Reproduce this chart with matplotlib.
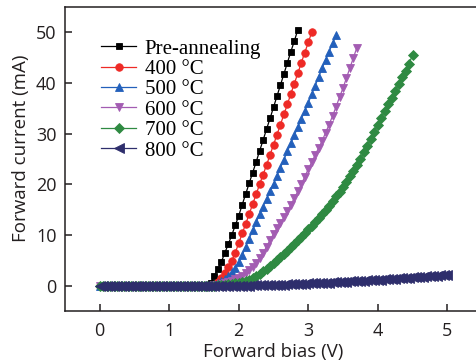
import numpy as np
import matplotlib
matplotlib.use('Agg')
import matplotlib.pyplot as plt

# forward current (mA), sweep step 0.05 V starting at 0 V
step = 0.05

pre_anneal = [0.0, 0.0, 0.0, 0.0, 0.0, 0.0, 0.0, 0.0, 0.0, 0.0,
              0.0, 0.0, 0.0, 0.0, 0.0, 0.0, 0.0, 0.0, 0.0, 0.0,
              0.0, 0.0, 0.0, 0.0, 0.0, 0.0, 0.0, 0.0, 0.0, 0.0,
              0.0, 0.0, 0.5, 2.0, 3.3, 4.7, 6.5, 8.2, 10.0, 11.9,
              13.8, 16.0, 18.1, 20.2, 22.3, 24.4, 26.6, 28.7, 30.9, 33.0,
              35.2, 37.4, 39.6, 41.8, 44.0, 46.2, 48.3, 50.5]

c400 = [0.0, 0.0, 0.0, 0.0, 0.0, 0.0, 0.0, 0.0, 0.0, 0.0,
        0.0, 0.0, 0.0, 0.0, 0.0, 0.0, 0.0, 0.0, 0.0, 0.0,
        0.0, 0.0, 0.0, 0.0, 0.0, 0.0, 0.0, 0.0, 0.0, 0.0,
        0.0, 0.0, 0.0, 0.2, 0.7, 1.5, 2.5, 3.6, 4.9, 6.5,
        8.4, 10.3, 12.2, 14.1, 16.1, 18.0, 20.0, 21.9, 23.8, 25.8,
        27.8, 29.8, 31.8, 33.8, 35.8, 37.9, 39.9, 41.9, 44.0, 46.0,
        48.0, 50.0]

c500 = [0.0, 0.0, 0.0, 0.0, 0.0, 0.0, 0.0, 0.0, 0.0, 0.0,
        0.0, 0.0, 0.0, 0.0, 0.0, 0.0, 0.0, 0.0, 0.0, 0.0,
        0.0, 0.0, 0.0, 0.0, 0.0, 0.0, 0.0, 0.0, 0.0, 0.0,
        0.0, 0.0, 0.0, 0.2, 0.6, 0.9, 1.4, 1.9, 2.6, 3.5,
        4.6, 6.0, 7.7, 9.3, 10.9, 12.5, 14.1, 15.6, 17.1, 18.6,
        20.1, 21.7, 23.3, 24.9, 26.5, 28.1, 29.7, 31.3, 32.9, 34.5,
        36.1, 37.8, 39.5, 41.2, 42.9, 44.6, 46.2, 47.8, 49.4]

c600 = [0.0, 0.0, 0.0, 0.0, 0.0, 0.0, 0.0, 0.0, 0.0, 0.0,
        0.0, 0.0, 0.0, 0.0, 0.0, 0.0, 0.0, 0.0, 0.0, 0.0,
        0.0, 0.0, 0.0, 0.0, 0.0, 0.0, 0.0, 0.0, 0.0, 0.0,
        0.0, 0.0, 0.0, 0.1, 0.2, 0.4, 0.6, 0.8, 1.0, 1.3,
        1.6, 2.0, 2.5, 3.0, 3.7, 4.5, 5.4, 6.4, 7.7, 9.0,
        10.2, 11.3, 12.4, 13.5, 14.7, 16.0, 17.3, 18.6, 20.0, 21.5,
        23.0, 24.4, 25.8, 27.2, 28.6, 30.2, 31.8, 33.5, 35.3, 37.2,
        39.0, 41.0, 43.0, 45.0, 47.0]

c700 = [0.0, 0.0, 0.0, 0.0, 0.0, 0.0, 0.0, 0.0, 0.0, 0.0,
        0.0, 0.0, 0.0, 0.0, 0.0, 0.0, 0.0, 0.0, 0.0, 0.0,
        0.0, 0.0, 0.0, 0.0, 0.0, 0.0, 0.0, 0.0, 0.0, 0.0,
        0.0, 0.0, 0.0, 0.0, 0.1, 0.15, 0.2, 0.3, 0.35, 0.45,
        0.55, 0.7, 0.9, 1.2, 1.5, 1.9, 2.3, 2.8, 3.3, 3.8,
        4.4, 5.0, 5.6, 6.2, 6.9, 7.6, 8.3, 9.0, 9.7, 10.4,
        11.1, 11.8, 12.6, 13.4, 14.2, 15.0, 15.8, 16.7, 17.6, 18.5,
        19.5, 20.5, 21.6, 22.7, 23.8, 25.0, 26.3, 27.6, 29.0, 30.4,
        31.8, 33.1, 34.5, 35.8, 37.1, 38.4, 39.8, 41.1, 42.4, 43.7,
        45.6]

c800 = [-0.1, -0.1, -0.1, -0.1, -0.1, -0.1, -0.1, -0.1, -0.1, -0.1,
        -0.1, -0.1, -0.1, -0.1, -0.1, -0.1, -0.1, -0.1, -0.1, -0.1,
        -0.1, -0.1, -0.1, -0.1, -0.1, -0.1, -0.1, -0.1, -0.1, -0.1,
        -0.1, -0.1, -0.1, -0.1, -0.1, -0.1, -0.1, -0.1, -0.1, -0.1,
        -0.05, -0.03, 0.0, 0.02, 0.04, 0.06, 0.08, 0.1, 0.12, 0.14,
        0.16, 0.18, 0.2, 0.23, 0.26, 0.29, 0.32, 0.35, 0.38, 0.41,
        0.44, 0.47, 0.5, 0.53, 0.56, 0.59, 0.62, 0.65, 0.69, 0.73,
        0.77, 0.81, 0.85, 0.89, 0.93, 0.97, 1.01, 1.05, 1.09, 1.13,
        1.17, 1.21, 1.25, 1.3, 1.35, 1.4, 1.45, 1.5, 1.55, 1.6,
        1.65, 1.7, 1.75, 1.8, 1.85, 1.9, 1.94, 1.98, 2.02, 2.06,
        2.1]

labels = ['Pre-annealing', '400 °C', '500 °C', '600 °C', '700 °C', '800 °C']
series = [pre_anneal, c400, c500, c600, c700, c800]

colors = ['#000000', '#ee2a26', '#2360bb', '#a35cb2', '#2f8a42', '#2e2e6c']
markers = ['s', 'o', '^', 'v', 'D', '<']
msizes = [4.8, 5.4, 6.4, 6.4, 5.4, 7.6]

fig = plt.figure(figsize=(4.77, 3.63), dpi=100)
ax = fig.add_axes([65/477, 52/363, 417/477, 304/363])

for cur, lab, col, mk, ms in zip(series, labels, colors, markers, msizes):
    v = np.arange(len(cur)) * step
    ax.plot(v, cur, color=col, lw=0.9, marker=mk, ms=ms, mec=col, mfc=col,
            mew=0.6, label=lab)

ax.set_xlim(-0.5, 5.5)
ax.set_ylim(-5, 55)
ax.set_xticks([0, 1, 2, 3, 4, 5])
ax.set_yticks([0, 10, 20, 30, 40, 50])

sans = ['Open Sans', 'DejaVu Sans']
ax.tick_params(direction='in', length=5, width=1.1, colors='#231f20',
               labelsize=13, top=False, right=False)
ax.tick_params(axis='x', pad=8)
ax.tick_params(axis='y', pad=6)
for t in ax.get_xticklabels() + ax.get_yticklabels():
    t.set_family(sans)
for s in ax.spines.values():
    s.set_linewidth(1.1)
    s.set_color('#231f20')

ax.set_xlabel('Forward bias (V)', family=sans, fontsize=13.5, color='#231f20', labelpad=2)
ax.set_ylabel('Forward current (mA)', family=sans, fontsize=13.5, color='#231f20')
ax.yaxis.set_label_coords(-0.083, 0.534)

leg = ax.legend(loc='upper left', bbox_to_anchor=(0.086, 0.895), frameon=False,
                prop={'family': 'Liberation Serif', 'size': 15},
                handlelength=1.7, handletextpad=0.4, labelspacing=0.04,
                borderpad=0, borderaxespad=0)

fig.savefig('out.png', dpi=100)
